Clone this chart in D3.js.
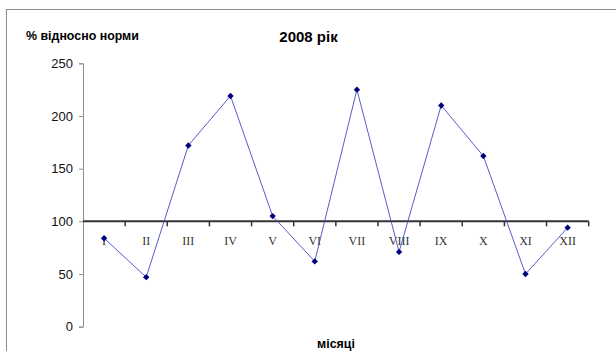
<!DOCTYPE html>
<html>
<head>
<meta charset="utf-8">
<script src="https://cdn.jsdelivr.net/npm/d3@7"></script>
<style>
  html, body { margin: 0; padding: 0; background: #fff; }
  svg { display: block; }
</style>
</head>
<body>
<svg id="chart" width="616" height="351"></svg>
<script>
// Monthly precipitation, % of norm, 2008
const months = ["I", "II", "III", "IV", "V", "VI", "VII", "VIII", "IX", "X", "XI", "XII"];
const values = [84, 47, 172, 219, 105, 62, 225, 71, 210, 162, 50, 94];
const yTicks = [0, 50, 100, 150, 200, 250];
const titleText = "2008 рік";
const yLabel = "% відносно норми";
const xLabel = "місяці";
const baseline = 100;

const svg = d3.select("#chart");

// chart area frame
svg.append("rect")
  .attr("x", 6.5).attr("y", 9.5)
  .attr("width", 640).attr("height", 400)
  .attr("fill", "none").attr("stroke", "#8c8c8c").attr("stroke-width", 1);

const plot = { left: 83, right: 588.7, top: 63.3, bottom: 326.7 };

const x = d3.scaleBand().domain(months).range([plot.left, plot.right]);
const y = d3.scaleLinear().domain([0, 250]).range([plot.bottom, plot.top]);

// y axis
const yAxis = svg.append("g")
  .attr("transform", `translate(${plot.left},0)`)
  .call(d3.axisLeft(y).tickValues(yTicks).tickSize(4).tickPadding(6));
yAxis.select(".domain").attr("stroke", "#8c8c8c");
yAxis.selectAll(".tick line").attr("stroke", "#8c8c8c");
yAxis.selectAll("text")
  .attr("font-family", "Liberation Sans, Arial, sans-serif")
  .attr("font-size", 13).attr("fill", "#111");

// x axis crossing at the norm level
const xAxis = svg.append("g")
  .attr("transform", `translate(0,${y(baseline)})`)
  .call(d3.axisBottom(x).tickSize(0).tickFormat(""));
xAxis.select(".domain").attr("stroke", "#333").attr("stroke-width", 2)
  .attr("d", `M${plot.left},0H${plot.right}`);

// category boundary ticks
const bounds = months.map(m => x(m)).concat([x(months[months.length - 1]) + x.bandwidth()]).slice(1);
xAxis.selectAll(".bt").data(bounds).enter().append("line")
  .attr("class", "bt")
  .attr("x1", d => d).attr("x2", d => d)
  .attr("y1", 0).attr("y2", 5)
  .attr("stroke", "#333").attr("stroke-width", 1.5);

// month labels
svg.append("g").selectAll("text").data(months).enter().append("text")
  .attr("x", d => x(d) + x.bandwidth() / 2)
  .attr("y", y(baseline) + 24)
  .attr("text-anchor", "middle")
  .attr("font-family", "Liberation Serif, Times New Roman, serif")
  .attr("font-size", 12).attr("fill", "#333")
  .text(d => d);

// series line
const line = d3.line()
  .x((d, i) => x(months[i]) + x.bandwidth() / 2)
  .y(d => y(d));
svg.append("path")
  .datum(values)
  .attr("d", line)
  .attr("fill", "none")
  .attr("stroke", "#4848c0")
  .attr("stroke-width", 0.9);

// diamond markers
const diamond = d3.symbol().type(d3.symbolDiamond2).size(26);
svg.append("g").selectAll("path").data(values).enter().append("path")
  .attr("d", diamond)
  .attr("transform", (d, i) => `translate(${x(months[i]) + x.bandwidth() / 2},${y(d)})`)
  .attr("fill", "#00007a");

// titles
svg.append("text")
  .attr("x", 308.5).attr("y", 41.5)
  .attr("text-anchor", "middle")
  .attr("font-family", "Liberation Sans, Arial, sans-serif")
  .attr("font-weight", "bold").attr("font-size", 15).attr("fill", "#000")
  .text(titleText);

svg.append("text")
  .attr("x", 26).attr("y", 40)
  .attr("font-family", "Liberation Sans, Arial, sans-serif")
  .attr("font-weight", "bold").attr("font-size", 12.4).attr("fill", "#000")
  .text(yLabel);

svg.append("text")
  .attr("x", 336).attr("y", 348)
  .attr("text-anchor", "middle")
  .attr("font-family", "Liberation Sans, Arial, sans-serif")
  .attr("font-weight", "bold").attr("font-size", 12.4).attr("fill", "#000")
  .text(xLabel);
</script>
</body>
</html>
